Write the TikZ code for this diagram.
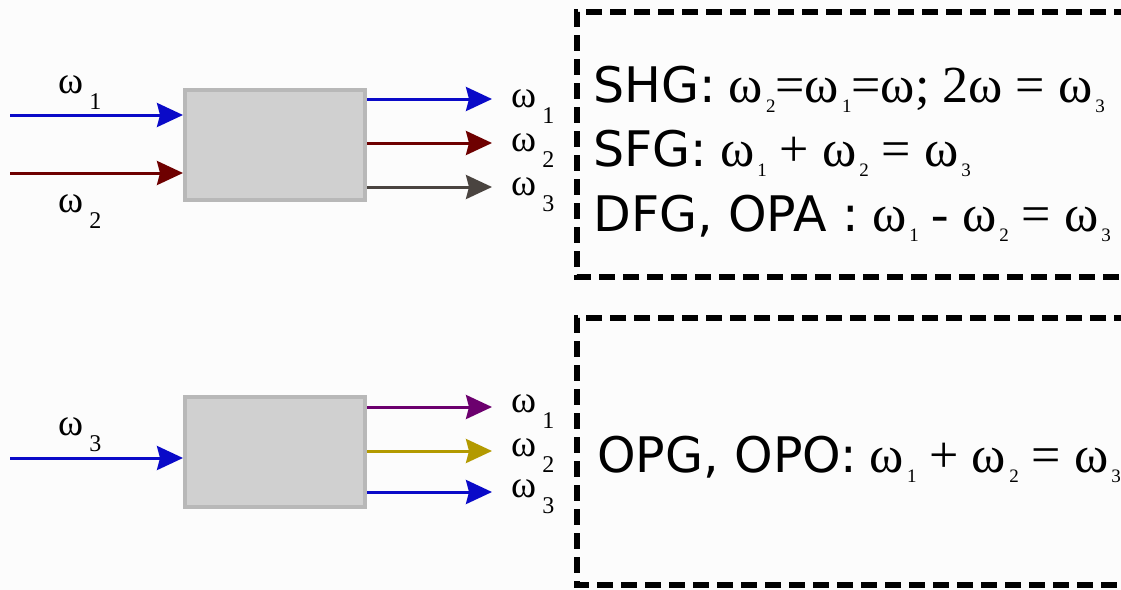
\documentclass[tikz,border=0pt]{standalone}
\usepackage{fontspec}
\setmainfont{Liberation Serif}
\newfontfamily\boxsans{DejaVu Sans}
\usetikzlibrary{arrows.meta,positioning}
\definecolor{nlBlue}{HTML}{0A0AC8}
\definecolor{nlRed}{HTML}{6E0000}
\definecolor{nlGray}{HTML}{4A4440}
\definecolor{nlPurple}{HTML}{6C006E}
\definecolor{nlGold}{HTML}{B39A00}
\definecolor{nlBox}{HTML}{D0D0D0}
\definecolor{nlEdge}{HTML}{B8B8B8}
\definecolor{nlBack}{HTML}{FCFCFC}
% omega with subscript: beside the arrows, and inside the frames
\newcommand{\wl}[1]{ω\kern3pt\raisebox{-8pt}{\fontsize{12}{14}\selectfont #1}}
\newcommand{\wb}[1]{ω\kern1.5pt\raisebox{-5pt}{\fontsize{9.5}{11}\selectfont #1}}
\newcommand{\proc}[1]{{\boxsans\fontsize{24.5}{28}\selectfont #1}}

\begin{document}
\begin{tikzpicture}[x=0.5pt, y=-0.5pt,
  blk/.style={draw=nlEdge, fill=nlBox, line width=2pt, minimum width=90pt, minimum height=55pt, inner sep=0pt},
  beam/.style={-{Stealth[length=13pt, width=12pt, inset=1.5pt]}, line width=1.5pt},
  wlab/.style={font=\fontsize{19}{22}\selectfont, inner sep=0pt, anchor=base west},
  frame/.style={line width=3pt, dash pattern=on 8pt off 4pt},
  eqn/.style={font=\fontsize{26}{30}\selectfont, anchor=base west, inner sep=0pt}]
\fill[nlBack] (0,0) rectangle (1121,590);
\useasboundingbox (0,0) rectangle (1121,590);

% -- upper process: two inputs, three outputs
\node[blk] (b1) at (275,145) {};
\coordinate (ina1) at (10,115);
\coordinate (ina2) at (10,173);
\draw[beam, nlBlue] (ina1) -- (ina1 -| b1.west);
\draw[beam, nlRed] (ina2) -- (ina2 -| b1.west);
\node[wlab] (la1) at (58,93) {\wl{1}};
\node[wlab] (la2) at (58,212) {\wl{2}};
\foreach \y/\c [count=\i] in {99/nlBlue, 143/nlRed, 187/nlGray}{
  \coordinate (ta\i) at (492,\y);
  \draw[beam, \c] (b1.east |- ta\i) -- (ta\i);
  \node[wlab] (oa\i) at (511,\y+8) {\wl{\i}};
}

% -- lower process: one input, three outputs
\node[blk] (b2) at (275,452) {};
\coordinate (inb3) at (10,458);
\draw[beam, nlBlue] (inb3) -- (inb3 -| b2.west);
\node[wlab] (lb3) at (58,435) {\wl{3}};
\foreach \y/\c [count=\i] in {407/nlPurple, 451/nlGold, 492/nlBlue}{
  \coordinate (tb\i) at (492,\y);
  \draw[beam, \c] (b2.east |- tb\i) -- (tb\i);
  \node[wlab] (ob\i) at (511,\y+5) {\wl{\i}};
}

% -- dashed frames, open to the right
\draw[frame] (1130,12) -| (577,277) -- (1130,277);
\draw[frame] (1130,318) -| (577,585) -- (1130,585);

\node[eqn] (shg) at (593,102) {\proc{SHG:} \wb{2}=\wb{1}=ω; 2ω = \wb{3}};
\node[eqn] (sfg) at (593,166) {\proc{SFG:} \wb{1} + \wb{2} = \wb{3}};
\node[eqn] (dfg) at (593,231) {\proc{DFG, OPA :} \wb{1} - \wb{2} = \wb{3}};
\node[eqn] (opg) at (597,472) {\proc{OPG, OPO:} \wb{1} + \wb{2} = \wb{3}};
\end{tikzpicture}
\end{document}
